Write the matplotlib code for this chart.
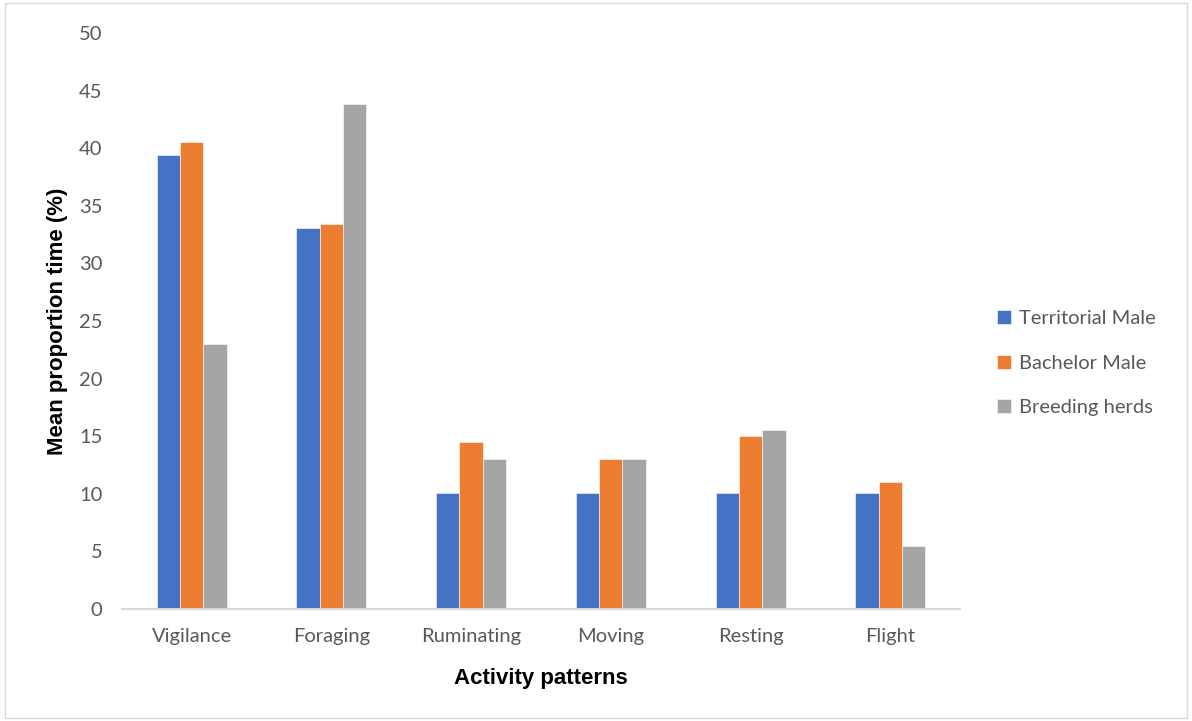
import numpy as np
import matplotlib
matplotlib.use("Agg")
import matplotlib.pyplot as plt
from matplotlib.patches import Rectangle

# mean proportion of time per activity
activities = ["Vigilance", "Foraging", "Ruminating", "Moving", "Resting", "Flight"]
territorial = [39.4, 33.1, 10.1, 10.1, 10.1, 10.1]
bachelor = [40.5, 33.4, 14.5, 13.0, 15.0, 11.0]
breeding = [23.0, 43.8, 13.0, 13.0, 15.5, 5.5]

series = [("Territorial Male", territorial, "#4472c4"),
          ("Bachelor Male", bachelor, "#ed7d31"),
          ("Breeding herds", breeding, "#a5a5a5")]

fig = plt.figure(figsize=(11.92, 7.21), dpi=100)
ax = fig.add_axes([0.1023, 0.1553, 0.7031, 0.7989])

x = np.arange(len(activities))
w = 0.167
for i, (name, vals, col) in enumerate(series):
    ax.bar(x + (i - 1) * w, vals, width=w, color=col, label=name,
           edgecolor="white", linewidth=0.4)

ax.set_xlim(-0.5, len(activities) - 0.5)
ax.set_ylim(0, 50)
ax.set_yticks(range(0, 51, 5))
ax.set_xticks(x)
ax.set_xticklabels(activities)

for s in ["top", "right", "left"]:
    ax.spines[s].set_visible(False)
ax.spines["bottom"].set_color("#d9d9d9")
ax.spines["bottom"].set_linewidth(1.5)
ax.tick_params(axis="both", length=0, labelsize=14.5, labelcolor="#595959")
ax.tick_params(axis="y", pad=14)
ax.tick_params(axis="x", pad=14)
for lab in ax.get_xticklabels() + ax.get_yticklabels():
    lab.set_fontfamily("Lato")

ax.set_xlabel("Activity patterns", fontsize=16, fontweight="bold",
              family="Liberation Sans", labelpad=16)
ax.set_ylabel("Mean proportion time (%)", fontsize=16, fontweight="bold",
              family="Liberation Sans", labelpad=8)

leg = ax.legend(loc="center left", bbox_to_anchor=(1.022, 0.427), frameon=False,
                prop={"family": "Lato", "size": 14.5}, handlelength=0.7,
                handleheight=0.7, handletextpad=0.4, labelspacing=1.35)
for t in leg.get_texts():
    t.set_color("#595959")

# light border around the chart area
fig.patches.append(Rectangle((0.004, 0.004), 0.992, 0.992, transform=fig.transFigure,
                             fill=False, edgecolor="#d9d9d9", linewidth=1))

fig.savefig("out.png", dpi=100, facecolor="white")
